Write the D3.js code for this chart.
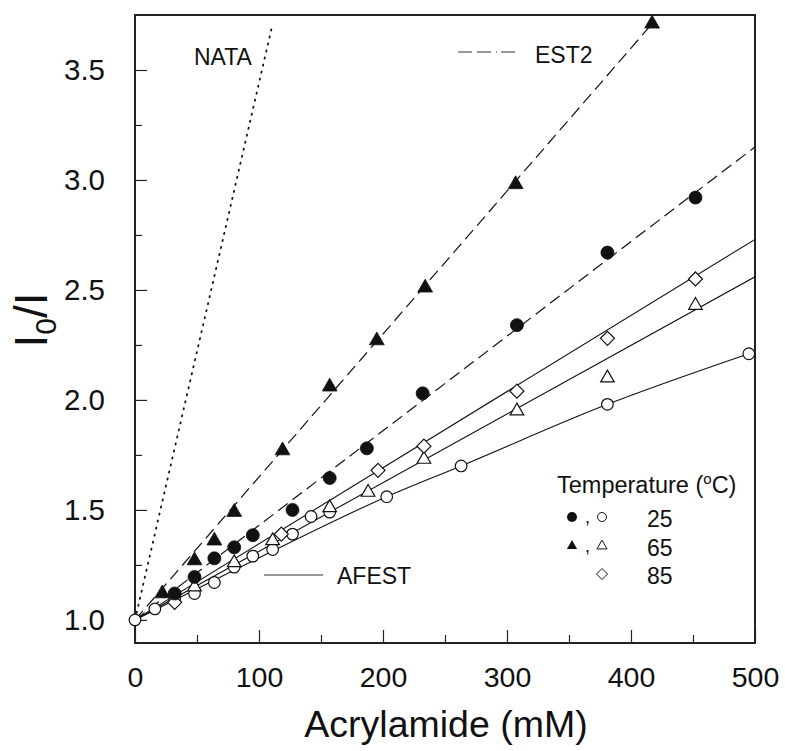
<!DOCTYPE html>
<html><head><meta charset="utf-8">
<script src="https://cdn.jsdelivr.net/npm/d3@7"></script>
<style>body{margin:0;background:#fff}text{font-family:"Liberation Sans",Arial,sans-serif;fill:#111}</style>
</head><body><svg id="c" width="785" height="751"></svg>
<script>
// ---- data ----
const xMajorTicks = [0, 100, 200, 300, 400, 500];
const xMinorTicks = [50, 150, 250, 350, 450];
const yMajorTicks = [1.0, 1.5, 2.0, 2.5, 3.0, 3.5];
const yMinorTicks = [1.25, 1.75, 2.25, 2.75, 3.25];

// EST2, 25 °C (filled circles)
const est2_25 = [[32,1.12],[48,1.195],[64,1.28],[80,1.33],[95,1.385],[127,1.50],[157,1.645],[187,1.78],[232,2.03],[308,2.34],[381,2.67],[452,2.92]];
// EST2, 65 °C (filled triangles)
const est2_65 = [[22,1.12],[48,1.27],[64,1.36],[80,1.49],[119,1.77],[157,2.06],[195,2.27],[234,2.51],[307,2.98],[417,3.71]];
// AFEST, 25 °C (open circles)
const afest_25 = [[0,1.0],[16,1.05],[32,1.09],[48,1.12],[64,1.17],[80,1.24],[95,1.29],[111,1.32],[127,1.39],[142,1.47],[157,1.49],[203,1.56],[263,1.70],[381,1.98],[495,2.21]];
// AFEST, 65 °C (open triangles)
const afest_65 = [[48,1.15],[80,1.26],[111,1.36],[157,1.51],[188,1.58],[233,1.73],[308,1.95],[381,2.10],[452,2.43]];
// AFEST, 85 °C (open diamonds)
const afest_85 = [[32,1.08],[118,1.39],[196,1.68],[233,1.79],[308,2.04],[381,2.28],[452,2.55]];

// fitted lines
const fitNATA = [[0,1.0],[111,3.71]];
const fitEST2_65 = [[0,1.0],[417,3.71]];
const fitEST2_25 = [[0,1.0],[500,3.15]];
const fitAFEST_85 = [[0,1.0],[500,2.73]];
const fitAFEST_65 = [[0,1.0],[500,2.56]];
const fitAFEST_25 = [[0,1.0],[85,1.24],[203,1.56],[263,1.70],[381,1.98],[495,2.21]];

const legendRows = [["25","circle"],["65","triangle"],["85","diamond"]];

// ---- drawing ----
const svg = d3.select("#c");
const L = 135, R = 755, T = 15, B = 643;
const x = d3.scaleLinear().domain([0, 500]).range([L, R]);
const y = d3.scaleLinear().domain([0.895, 3.75]).range([B, T]);

svg.append("clipPath").attr("id","clip").append("rect").attr("x",L).attr("y",T).attr("width",R-L).attr("height",B-T);

// axes
const gx = svg.append("g").attr("transform",`translate(0,${B})`)
  .call(d3.axisBottom(x).tickValues(xMajorTicks).tickSize(-13).tickPadding(24).tickFormat(d3.format("d")));
const gxm = svg.append("g").attr("transform",`translate(0,${B})`)
  .call(d3.axisBottom(x).tickValues(xMinorTicks).tickSize(-8).tickFormat(""));
const gy = svg.append("g").attr("transform",`translate(${L},0)`)
  .call(d3.axisLeft(y).tickValues(yMajorTicks).tickSize(-12).tickPadding(30).tickFormat(d3.format(".1f")));
const gym = svg.append("g").attr("transform",`translate(${L},0)`)
  .call(d3.axisLeft(y).tickValues(yMinorTicks).tickSize(-7).tickFormat(""));
[gx,gxm,gy,gym].forEach(g=>{g.select(".domain").remove();g.selectAll("line").attr("stroke","#222").attr("stroke-width",1.2);});
gx.selectAll("text").attr("font-size",28.5).attr("fill","#111").attr("dy","0.71em");
gy.selectAll("text").attr("font-size",29.5).attr("fill","#111");

// frame
svg.append("rect").attr("x",L).attr("y",T).attr("width",R-L).attr("height",B-T)
  .attr("fill","none").attr("stroke","#222").attr("stroke-width",2);

const line = d3.line().x(d=>x(d[0])).y(d=>y(d[1]));
const lineC = d3.line().x(d=>x(d[0])).y(d=>y(d[1])).curve(d3.curveMonotoneX);
const lg = svg.append("g").attr("clip-path","url(#clip)").attr("fill","none").attr("stroke","#111");
lg.append("path").attr("d",line(fitNATA)).attr("stroke-width",1.8).attr("stroke-dasharray","1.2,6").attr("stroke-linecap","round");
lg.append("path").attr("d",line(fitEST2_65)).attr("stroke-width",1.2).attr("stroke-dasharray","12,6");
lg.append("path").attr("d",line(fitEST2_25)).attr("stroke-width",1.2).attr("stroke-dasharray","12,6");
lg.append("path").attr("d",line(fitAFEST_85)).attr("stroke-width",1.1);
lg.append("path").attr("d",line(fitAFEST_65)).attr("stroke-width",1.1);
lg.append("path").attr("d",lineC(fitAFEST_25)).attr("stroke-width",1.1);

// markers
const tri = d3.symbol().type(d3.symbolTriangle).size(95)();
const triO = d3.symbol().type(d3.symbolTriangle).size(80)();
const triL = d3.symbol().type(d3.symbolTriangle).size(45)();
function diamondPath(s){return `M0,${-s}L${s},0L0,${s}L${-s},0Z`;}
const mg = svg.append("g");
function draw(data, kind, filled){
  const g = mg.append("g");
  data.forEach(d=>{
    const cx = x(d[0]), cy = y(d[1]);
    let el;
    if(kind==="circle") el = g.append("circle").attr("cx",cx).attr("cy",cy).attr("r",filled?6.5:5.8);
    else if(kind==="triangle") el = g.append("path").attr("d",filled?tri:triO).attr("transform",`translate(${cx},${cy})`);
    else el = g.append("path").attr("d",diamondPath(7)).attr("transform",`translate(${cx},${cy})`);
    el.attr("fill",filled?"#111":"#fff").attr("stroke","#111").attr("stroke-width",filled?0.8:1.2);
  });
}
draw(afest_25,"circle",false);
draw(afest_65,"triangle",false);
draw(afest_85,"diamond",false);
draw(est2_25,"circle",true);
draw(est2_65,"triangle",true);

// annotations
svg.append("text").attr("x",194).attr("y",65).attr("font-size",23).text("NATA");
svg.append("line").attr("x1",458).attr("x2",520).attr("y1",52).attr("y2",52).attr("stroke","#333").attr("stroke-width",1).attr("stroke-dasharray","14,5,14,5,1,4");
svg.append("text").attr("x",535).attr("y",63).attr("font-size",23).text("EST2");
svg.append("line").attr("x1",264).attr("x2",323).attr("y1",575).attr("y2",575).attr("stroke","#333").attr("stroke-width",1);
svg.append("text").attr("x",337).attr("y",584).attr("font-size",23).text("AFEST");

// legend
const leg = svg.append("g");
const tt = leg.append("text").attr("x",557).attr("y",493).attr("font-size",23.5);
tt.append("tspan").text("Temperature (");
tt.append("tspan").attr("font-size",15).attr("dy",-9).text("o");
tt.append("tspan").attr("dy",9).text("C)");
const rowY = [517,546,574];
legendRows.forEach((r,i)=>{
  const yy = rowY[i];
  if(r[1]==="circle"){
    leg.append("circle").attr("cx",572).attr("cy",yy).attr("r",5).attr("fill","#111");
    leg.append("circle").attr("cx",602).attr("cy",yy).attr("r",4.5).attr("fill","#fff").attr("stroke","#111").attr("stroke-width",1);
  } else if(r[1]==="triangle"){
    leg.append("path").attr("d",triL).attr("transform",`translate(572,${yy})`).attr("fill","#111");
    leg.append("path").attr("d",triL).attr("transform",`translate(602,${yy})`).attr("fill","#fff").attr("stroke","#111").attr("stroke-width",1);
  } else {
    leg.append("path").attr("d",diamondPath(5.5)).attr("transform",`translate(602,${yy})`).attr("fill","#fff").attr("stroke","#111").attr("stroke-width",1);
  }
  if(r[1]!=="diamond") leg.append("text").attr("x",585).attr("y",yy+6).attr("font-size",18).text(",");
  leg.append("text").attr("x",647).attr("y",yy+10).attr("font-size",23).text(r[0]);
});

// axis titles
svg.append("text").attr("x",446).attr("y",737).attr("text-anchor","middle").attr("font-size",37.5).text("Acrylamide (mM)");
const yt = svg.append("text").attr("transform","translate(47,320) rotate(-90)").attr("text-anchor","middle").attr("font-size",46);
yt.append("tspan").text("I");
yt.append("tspan").attr("font-size",30).attr("dy",9).text("0");
yt.append("tspan").attr("dy",-9).text("/I");
</script></body></html>
